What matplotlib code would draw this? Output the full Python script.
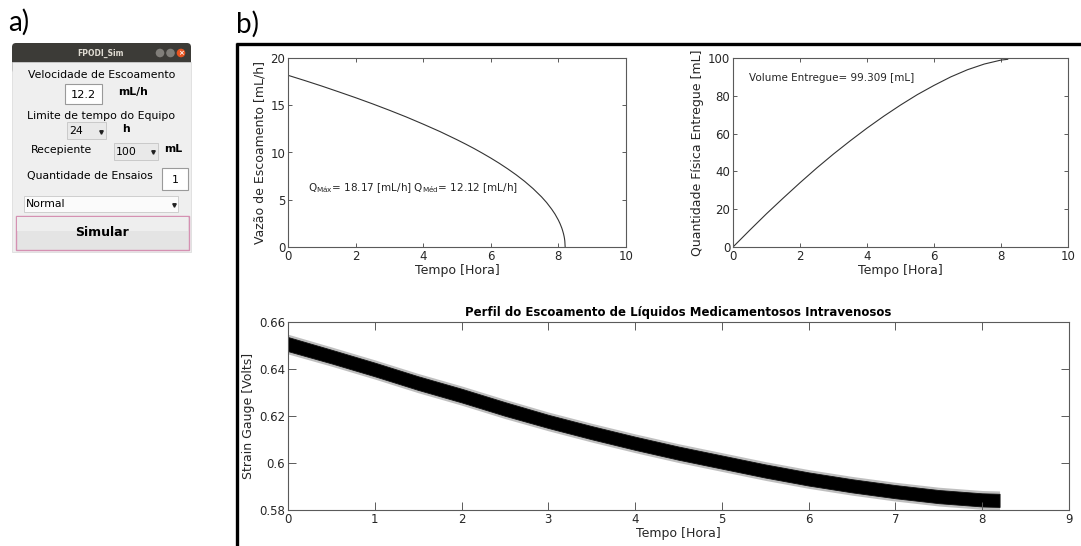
import matplotlib
matplotlib.use("Agg")
import matplotlib.pyplot as plt
from matplotlib.patches import Rectangle, FancyBboxPatch, Circle

# ---------------- data ----------------
t_q = [0, 0.5, 1, 1.5, 2, 2.5, 3, 3.5, 4, 4.5, 5, 5.25, 5.5, 5.75, 6, 6.25, 6.5, 6.75, 7, 7.25,
       7.5, 7.65, 7.8, 7.9, 8.0, 8.05, 8.1, 8.12, 8.15, 8.17, 8.18, 8.19, 8.2]
q_vals = [18.17, 17.61, 17.03, 16.42, 15.80, 15.15, 14.47, 13.76, 13.00, 12.21, 11.35, 10.90,
          10.43, 9.93, 9.41, 8.86, 8.27, 7.64, 6.95, 6.18, 5.31, 4.71, 4.01, 3.48, 2.84, 2.46,
          2.01, 1.79, 1.42, 1.10, 0.90, 0.63, 0.0]

t_v = [0, 0.5, 1, 1.5, 2, 2.5, 3, 3.5, 4, 4.5, 5, 5.5, 6, 6.5, 7, 7.5, 8, 8.2]
v_vals = [0, 8.9, 17.6, 25.9, 34.0, 41.8, 49.2, 56.2, 62.9, 69.2, 75.1, 80.6, 85.5, 90.0,
          93.8, 96.8, 98.9, 99.3]

t_s = [0, 0.5, 1, 1.5, 2, 2.5, 3, 3.5, 4, 4.5, 5, 5.5, 6, 6.5, 7, 7.5, 8, 8.2]
s_center = [0.6506, 0.6453, 0.6398, 0.6340, 0.6287, 0.6230, 0.6177, 0.6129, 0.6084, 0.6042,
            0.6004, 0.5966, 0.5932, 0.5903, 0.5878, 0.5857, 0.5843, 0.5841]
s_core = [0.0030, 0.0029, 0.0029, 0.0029, 0.0029, 0.0029, 0.0028, 0.0028, 0.0028, 0.0028,
          0.0028, 0.0028, 0.0028, 0.0028, 0.0028, 0.0028, 0.0028, 0.0028]
s_spike = [0.0042, 0.0041, 0.0041, 0.0041, 0.0041, 0.0041, 0.0040, 0.0040, 0.0040, 0.0040,
           0.0040, 0.0040, 0.0040, 0.0040, 0.0040, 0.0040, 0.0040, 0.0040]

q_max, q_med, v_total = 18.17, 12.12, 99.309

x_ticks_top = [0, 2, 4, 6, 8, 10]
y_ticks_q = [0, 5, 10, 15, 20]
y_ticks_v = [0, 20, 40, 60, 80, 100]
x_ticks_s = [0, 1, 2, 3, 4, 5, 6, 7, 8, 9]
y_ticks_s = [0.58, 0.60, 0.62, 0.64, 0.66]
y_ticklabels_s = ["0.58", "0.6", "0.62", "0.64", "0.66"]

# ---------------- figure ----------------
W, H = 1081, 546
fig = plt.figure(figsize=(W / 100, H / 100), dpi=100)
fig.patch.set_facecolor("white")

TXT = "#262626"
SP = "#5a5a5a"

# overlay in pixel coordinates
ov = fig.add_axes([0, 0, 1, 1])
ov.set_xlim(0, W)
ov.set_ylim(H, 0)
ov.axis("off")
ov.set_zorder(0)

def px_axes(l, t, r, b):
    return fig.add_axes([l / W, (H - b) / H, (r - l) / W, (b - t) / H])

def style(ax, ticklen):
    for s in ax.spines.values():
        s.set_color(SP)
        s.set_linewidth(0.8)
    ax.tick_params(direction="in", top=True, right=True, length=ticklen, width=0.7,
                   color=SP, labelcolor=TXT, labelsize=8.5, pad=2)

# ---------------- panel labels ----------------
ov.text(8, 22, "a)", fontsize=20, family="Lato", va="center", ha="left", color="black")
ov.text(236, 24, "b)", fontsize=20, family="Lato", va="center", ha="left", color="black")

# frame of panel b
ov.plot([236, W], [43.5, 43.5], color="black", lw=2.4, solid_capstyle="butt")
ov.plot([236.5, 236.5], [43, H], color="black", lw=2.4, solid_capstyle="butt")

# ---------------- GUI panel a ----------------
gx0, gx1 = 12, 191
ov.add_patch(FancyBboxPatch((gx0, 43), gx1 - gx0, 30, boxstyle="round,pad=0,rounding_size=4",
                            facecolor="#3c3b37", edgecolor="none"))
ov.add_patch(Rectangle((gx0, 62), gx1 - gx0, 190, facecolor="#efefef", edgecolor="#d8d8d8", lw=0.5))
ov.text(101, 53, "FPODI_Sim", fontsize=5.5, weight="bold", color="#dfdbd2", ha="center", va="center")
for cx, col in [(160, "#807e79"), (170.5, "#807e79"), (181, "#e95420")]:
    ov.add_patch(Circle((cx, 53), 4.3, facecolor=col, edgecolor="none"))
ov.text(181, 53.3, "×", fontsize=5, color="white", ha="center", va="center", weight="bold")

gf = 7.8
ov.text(102, 75, "Velocidade de Escoamento", fontsize=gf, ha="center", va="center", color="black")
ov.add_patch(Rectangle((65, 84), 37, 20, facecolor="white", edgecolor="#9a9a9a", lw=0.8))
ov.text(83.5, 94.5, "12.2", fontsize=8.2, ha="center", va="center", color="black")
ov.text(118, 92, "mL/h", fontsize=gf, weight="bold", ha="left", va="center", color="black")

ov.text(101, 116, "Limite de tempo do Equipo", fontsize=gf, ha="center", va="center", color="black")
ov.add_patch(Rectangle((67, 122), 39, 17, facecolor="#e9e9e9", edgecolor="#c4c4c4", lw=0.6))
ov.text(69, 131, "24", fontsize=gf, ha="left", va="center", color="black")
ov.plot([101], [131.5], marker="v", ms=2.5, color="#222222")
ov.text(122, 129, "h", fontsize=gf, weight="bold", ha="left", va="center", color="black")

ov.text(31, 150, "Recepiente", fontsize=gf, ha="left", va="center", color="black")
ov.add_patch(Rectangle((114, 143), 44, 17, facecolor="#e9e9e9", edgecolor="#c4c4c4", lw=0.6))
ov.text(116, 152, "100", fontsize=gf, ha="left", va="center", color="black")
ov.plot([153], [152], marker="v", ms=2.5, color="#222222")
ov.text(164, 149, "mL", fontsize=gf, weight="bold", ha="left", va="center", color="black")

ov.text(27, 176, "Quantidade de Ensaios", fontsize=gf, ha="left", va="center", color="black")
ov.add_patch(Rectangle((162, 168), 26, 22, facecolor="white", edgecolor="#9a9a9a", lw=0.8))
ov.text(175, 180, "1", fontsize=gf, ha="center", va="center", color="black")

ov.add_patch(Rectangle((24, 196), 154, 16, facecolor="#fbfbfb", edgecolor="#c8c8c8", lw=0.6))
ov.text(25.5, 204, "Normal", fontsize=gf, ha="left", va="center", color="black")
ov.plot([174], [205], marker="v", ms=2.5, color="#222222")

ov.add_patch(Rectangle((16, 216), 173, 34, facecolor="#e4e4e4", edgecolor="#d591b2", lw=1.0))
ov.add_patch(Rectangle((17, 217), 171, 14, facecolor="#eeeeee", edgecolor="none"))
ov.text(102, 233, "Simular", fontsize=9, weight="bold", ha="center", va="center", color="black")

# ---------------- plot 1: flow ----------------
ax1 = px_axes(288, 58, 626, 247)
ax1.plot(t_q, q_vals, color="#333333", lw=0.8)
ax1.set_xlim(0, 10)
ax1.set_ylim(0, 20)
ax1.set_xticks(x_ticks_top)
ax1.set_yticks(y_ticks_q)
style(ax1, 3)
ax1.set_xlabel("Tempo [Hora]", fontsize=9, color=TXT, labelpad=1)
ax1.set_ylabel("Vazão de Escoamento [mL/h]", fontsize=9, color=TXT, labelpad=3)
ax1.text(0.58, 6.2, r"Q$_{\mathrm{Máx}}$= %.2f [mL/h] Q$_{\mathrm{Méd}}$= %.2f [mL/h]" % (q_max, q_med),
         fontsize=7.5, color=TXT, ha="left", va="center")

# ---------------- plot 2: volume ----------------
ax2 = px_axes(733, 58, 1068, 247)
ax2.plot(t_v, v_vals, color="#333333", lw=0.8)
ax2.set_xlim(0, 10)
ax2.set_ylim(0, 100)
ax2.set_xticks(x_ticks_top)
ax2.set_yticks(y_ticks_v)
style(ax2, 3)
ax2.set_xlabel("Tempo [Hora]", fontsize=9, color=TXT, labelpad=1)
ax2.set_ylabel("Quantidade Física Entregue [mL]", fontsize=9, color=TXT, labelpad=3)
ax2.text(0.48, 89.5, "Volume Entregue= %.3f [mL]" % v_total, fontsize=7.5, color=TXT,
         ha="left", va="center")

# ---------------- plot 3: strain gauge ----------------
ax3 = px_axes(288, 322, 1069, 510)
outer_up = [c + h for c, h in zip(s_center, s_spike)]
outer_lo = [c - h for c, h in zip(s_center, s_spike)]
core_up = [c + h for c, h in zip(s_center, s_core)]
core_lo = [c - h for c, h in zip(s_center, s_core)]
ax3.fill_between(t_s, outer_lo, outer_up, color="#8c8c8c", alpha=0.55, lw=0)
ax3.fill_between(t_s, core_lo, core_up, color="black", lw=0.6, edgecolor="#111111")
ax3.set_xlim(0, 9)
ax3.set_ylim(0.58, 0.66)
ax3.set_xticks(x_ticks_s)
ax3.set_yticks(y_ticks_s)
ax3.set_yticklabels(y_ticklabels_s)
style(ax3, 6)
ax3.set_xlabel("Tempo [Hora]", fontsize=9, color=TXT, labelpad=1)
ax3.set_ylabel("Strain Gauge [Volts]", fontsize=9, color=TXT, labelpad=3)
ax3.set_title("Perfil do Escoamento de Líquidos Medicamentosos Intravenosos", fontsize=8.5,
              weight="bold", color="black", pad=4)

fig.savefig("out.png", dpi=100)
